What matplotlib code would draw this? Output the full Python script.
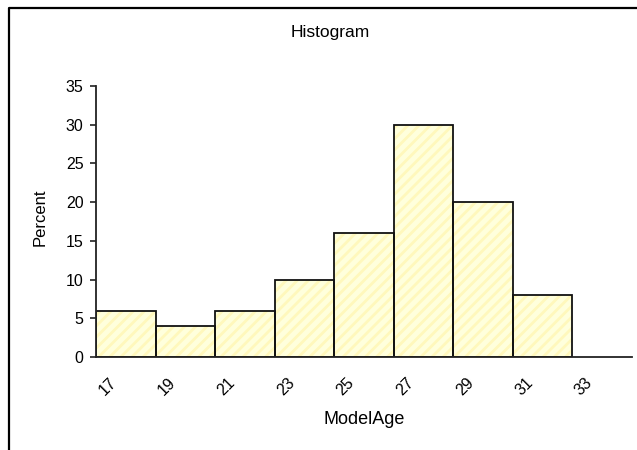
import matplotlib
matplotlib.use("Agg")
import matplotlib.pyplot as plt
from matplotlib.lines import Line2D

# Histogram of model ages (percent per 2-year bin)
bin_edges = [17, 19, 21, 23, 25, 27, 29, 31, 33]
percents = [6, 4, 6, 10, 16, 30, 20, 8]
x_ticks = [17, 19, 21, 23, 25, 27, 29, 31, 33]
y_ticks = [0, 5, 10, 15, 20, 25, 30, 35]

plt.rcParams["font.family"] = ["Liberation Sans", "DejaVu Sans"]
plt.rcParams["hatch.linewidth"] = 2.0

W, H = 637, 450
fig = plt.figure(figsize=(W / 100, H / 100), dpi=100)
ax = fig.add_axes([96 / W, 1 - 357 / H, (632 - 96) / W, (357 - 86) / H])

lefts = bin_edges[:-1]
widths = [b - a for a, b in zip(bin_edges[:-1], bin_edges[1:])]

# hatched light-yellow fill
ax.bar(lefts, percents, width=widths, align="edge", color="#FFFFDC",
       edgecolor="#FFF8BC", hatch="///", linewidth=0, zorder=2)
# black outlines
ax.bar(lefts, percents, width=widths, align="edge", fill=False,
       edgecolor="#111111", linewidth=1.3, zorder=3)

ax.set_xlim(17, 35)
ax.set_ylim(0, 35)
ax.set_yticks(y_ticks)
ax.set_xticks(x_ticks)
ax.set_xticklabels([str(v) for v in x_ticks], rotation=45,
                   ha="left", va="top", rotation_mode="default")

for s in ("top", "right"):
    ax.spines[s].set_visible(False)
for s in ("left", "bottom"):
    ax.spines[s].set_linewidth(1.3)
    ax.spines[s].set_color("#222222")
    ax.spines[s].set_zorder(4)

ax.tick_params(axis="y", length=4, width=1.2, pad=5, labelsize=11.5,
               color="#222222")
ax.tick_params(axis="x", length=0, pad=13, labelsize=11.5)

fig.text(330 / W, 1 - 33 / H, "Histogram", ha="center", va="center",
         fontsize=12.5)
fig.text(40 / W, 1 - 217 / H, "Percent", ha="center", va="center",
         rotation=90, fontsize=12)
fig.text(364 / W, 1 - 420 / H, "ModelAge", ha="center", va="center",
         fontsize=13)

# outer chart frame
fig.add_artist(Line2D([8.5 / W, 8.5 / W, 1.0], [0.0, 1 - 7.5 / H, 1 - 7.5 / H],
                      transform=fig.transFigure, color="black", linewidth=1.6))

fig.savefig("out.png", dpi=100)
